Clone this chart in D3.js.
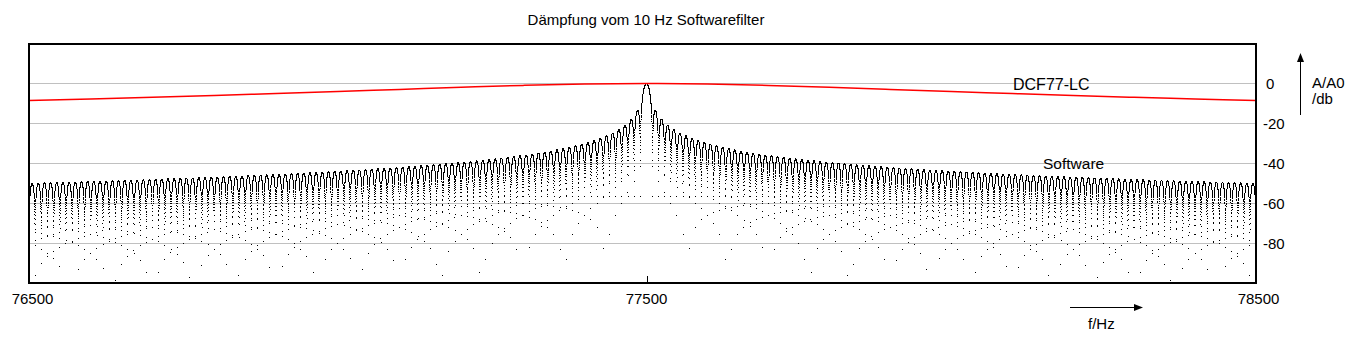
<!DOCTYPE html>
<html>
<head>
<meta charset="utf-8">
<script src="https://cdn.jsdelivr.net/npm/d3@7/dist/d3.min.js"></script>
<style>
  html, body { margin: 0; padding: 0; background: #fff; }
  svg { display: block; }
  text { font-family: "Liberation Sans", Arial, sans-serif; fill: #000; }
</style>
</head>
<body>
<svg id="chart" width="1362" height="348"></svg>
<script>
// ---------------- data ----------------
const freqTicks = [76500, 77500, 78500];          // x tick labels (Hz)
const dbTicks = [0, -20, -40, -60, -80];           // y tick labels (dB)
const centerHz = 77500;

// DCF77-LC curve: attenuation (dB) at offsets from 77500 Hz
const lcOffsetHz = [-1000, -900, -800, -700, -600, -500, -400, -300, -200, -100, 0,
                     100, 200, 300, 400, 500, 600, 700, 800, 900, 1000];
const lcDb = [-8.5, -7.7, -6.9, -6.0, -5.0, -4.0, -2.95, -1.9, -0.95, -0.26, 0,
              -0.26, -0.95, -1.9, -2.95, -4.0, -5.0, -6.0, -6.9, -7.7, -8.5];

// Software filter: side-lobe peak level (dB) vs. distance from 77500 Hz
const swPeakOffsetHz = [10, 15, 25, 35, 45, 55, 75, 105, 155, 205, 305, 405, 505, 705, 1005];
const swPeakDb = [-9.9, -13.5, -17.9, -20.8, -23.0, -24.8, -27.4, -30.4, -33.8, -36.2,
                  -39.6, -42.1, -44.0, -46.9, -50.0];
const swNullSpacingHz = 10;      // nulls every 10 Hz (10 Hz filter)
const swSampleCount = 19630;     // number of plotted sample points over the span

// ---------------- chart ----------------
const svg = d3.select("#chart");
const x = d3.scaleLinear().domain([76500, 77500, 78500]).range([29, 646.5, 1256]);
const y = d3.scaleLinear().domain([20, -100]).range([43.5, 283.5]);

// title
svg.append("text").attr("x", 646).attr("y", 25).attr("text-anchor", "middle")
  .style("font-size", "15px").text("Dämpfung vom 10 Hz Softwarefilter");

// gridlines
svg.append("g").selectAll("line").data(dbTicks).join("line")
  .attr("x1", 29).attr("x2", 1256)
  .attr("y1", d => y(d)).attr("y2", d => y(d))
  .attr("stroke", "#c0c0c0").attr("stroke-width", 1).attr("shape-rendering", "crispEdges");

// software filter sample points
const env = d3.scaleLog().domain(swPeakOffsetHz).range(swPeakDb).clamp(true);
const span = x.domain()[2] - x.domain()[0];
const step = span / swSampleCount;
const seen = new Set();
let dPath = "";
for (let i = 0; i <= swSampleCount; i++) {
  const f = x.domain()[0] + i * step;
  const a = Math.abs(f - centerHz);
  const ph = Math.PI * a / swNullSpacingHz;
  let db;
  if (a < swNullSpacingHz) {
    db = a === 0 ? 0 : 20 * Math.log10(Math.abs(Math.sin(ph) / ph));
  } else {
    db = env(a) + 20 * Math.log10(Math.abs(Math.sin(ph)));
  }
  if (!isFinite(db) || db < -100) continue;
  const px = Math.floor(x(f)), py = Math.floor(y(db));
  const key = px * 1000 + py;
  if (seen.has(key)) continue;
  seen.add(key);
  dPath += "M" + px + "," + py + "h1v1h-1z";
}
svg.append("path").attr("d", dPath).attr("fill", "#000").attr("shape-rendering", "crispEdges");

// DCF77-LC curve
const lcLine = d3.line().x(d => x(centerHz + d[0])).y(d => y(d[1])).curve(d3.curveMonotoneX);
svg.append("path").datum(d3.zip(lcOffsetHz, lcDb)).attr("d", lcLine)
  .attr("fill", "none").attr("stroke", "#ff0000").attr("stroke-width", 1.5);

// frame
svg.append("rect").attr("x", 29).attr("y", 44).attr("width", 1256 - 29).attr("height", 283 - 44)
  .attr("fill", "none").attr("stroke", "#000").attr("stroke-width", 2).attr("shape-rendering", "crispEdges");

// x ticks (inside) and labels
svg.append("g").selectAll("line").data(freqTicks.slice(1, 2)).join("line")
  .attr("x1", d => Math.round(x(d)) + 0.5).attr("x2", d => Math.round(x(d)) + 0.5)
  .attr("y1", 276).attr("y2", 283).attr("stroke", "#000").attr("stroke-width", 1);
svg.append("g").selectAll("text").data(freqTicks).join("text")
  .attr("x", (d, i) => i === 0 ? 32.5 : (i === 2 ? 1258.5 : x(d)))
  .attr("y", 303.5).attr("text-anchor", "middle").style("font-size", "15px").text(d => d);

// y labels (right)
svg.append("g").selectAll("text").data(dbTicks).join("text")
  .attr("x", d => d === 0 ? 1266 : 1263).attr("y", d => y(d) + 5.5)
  .style("font-size", "15px").text(d => d === 0 ? "0" : "-" + Math.abs(d));

// y axis arrow + unit
svg.append("line").attr("x1", 1300.5).attr("x2", 1300.5).attr("y1", 115).attr("y2", 60)
  .attr("stroke", "#000").attr("stroke-width", 1);
svg.append("path").attr("d", "M1300.5,53L1297,62L1304,62Z").attr("fill", "#000");
svg.append("text").attr("x", 1312).attr("y", 87.5).style("font-size", "15px").text("A/A0");
svg.append("text").attr("x", 1312).attr("y", 104).style("font-size", "15px").text("/db");

// x axis arrow + unit
svg.append("line").attr("x1", 1070).attr("x2", 1136).attr("y1", 307.5).attr("y2", 307.5)
  .attr("stroke", "#000").attr("stroke-width", 1);
svg.append("path").attr("d", "M1143,307.5L1134,304L1134,311Z").attr("fill", "#000");
svg.append("text").attr("x", 1088).attr("y", 328.5).style("font-size", "15px").text("f/Hz");

// series labels
svg.append("text").attr("x", 1013).attr("y", 89.5).style("font-size", "16px").text("DCF77-LC");
svg.append("text").attr("x", 1043).attr("y", 168.5).style("font-size", "15.5px").text("Software");
</script>
</body>
</html>
